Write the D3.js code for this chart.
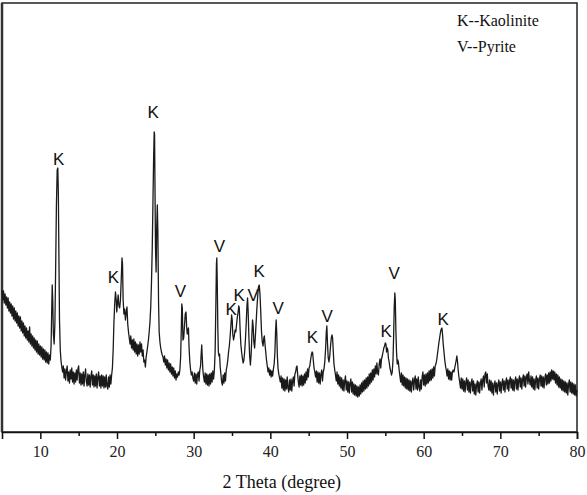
<!DOCTYPE html>
<html>
<head>
<meta charset="utf-8">
<script src="https://cdn.jsdelivr.net/npm/d3@7"></script>
<style>
  body { margin: 0; background: #fff; }
</style>
</head>
<body>
<div id="chart"></div>
<script>
// XRD pattern: [2 theta, intensity a.u.]
var pattern = [
  [5.0,142],[5.1,132],[5.2,141],[5.3,129],[5.4,138],[5.5,127],[5.6,135],[5.7,124],[5.8,134],[5.9,121],
  [6.0,130],[6.1,119],[6.2,128],[6.3,116],[6.4,126],[6.5,113],[6.6,124],[6.7,111],[6.8,121],[6.9,109],
  [7.0,119],[7.1,106],[7.2,116],[7.3,104],[7.4,115],[7.5,101],[7.6,111],[7.7,99],[7.8,109],[7.9,96],
  [8.0,106],[8.1,94],[8.2,104],[8.3,92],[8.4,101],[8.5,90],[8.6,105],[8.7,88],[8.8,98],[8.9,86],
  [9.0,96],[9.1,84],[9.2,94],[9.3,82],[9.4,92],[9.5,80],[9.6,91],[9.7,78],[9.8,88],[9.9,77],
  [10.0,86],[10.1,75],[10.2,85],[10.3,73],[10.4,83],[10.5,72],[10.6,82],[10.7,70],[10.8,80],[10.9,69],
  [11.0,79],[11.1,68],[11.2,77],[11.3,72],[11.4,86],[11.5,128],[11.55,147],[11.62,132],[11.7,98],[11.8,88],
  [11.9,108],[12.0,165],[12.1,228],[12.2,262],[12.28,264],[12.35,238],[12.42,178],[12.5,112],[12.6,82],[12.7,71],
  [12.8,65],[12.9,60],[13.0,66],[13.1,54],[13.2,63],[13.3,52],[13.4,61],[13.5,66],[13.6,51],[13.7,60],
  [13.8,49],[13.9,62],[14.0,53],[14.1,64],[14.2,50],[14.3,60],[14.4,48],[14.5,59],[14.6,50],[14.7,62],
  [14.8,52],[14.9,63],[15.0,66],[15.1,49],[15.2,59],[15.3,47],[15.4,58],[15.5,48],[15.6,60],[15.7,46],
  [15.8,57],[15.9,63],[16.0,50],[16.1,46],[16.2,58],[16.3,47],[16.4,57],[16.5,45],[16.6,56],[16.7,61],
  [16.8,47],[16.9,57],[17.0,45],[17.1,56],[17.2,46],[17.3,58],[17.4,44],[17.5,55],[17.6,60],[17.7,46],
  [17.8,56],[17.9,44],[18.0,57],[18.1,46],[18.2,56],[18.3,44],[18.4,55],[18.5,45],[18.6,57],[18.7,46],
  [18.8,43],[18.9,55],[19.0,45],[19.1,57],[19.2,48],[19.3,57],[19.4,64],[19.5,82],[19.6,110],[19.7,128],
  [19.8,140],[19.9,132],[19.97,120],[20.05,128],[20.15,137],[20.25,126],[20.35,124],[20.45,132],[20.55,152],[20.65,174],
  [20.72,168],[20.8,132],[20.9,118],[21.0,123],[21.1,112],[21.2,120],[21.3,125],[21.4,108],[21.5,100],[21.6,94],
  [21.7,88],[21.8,96],[21.9,84],[22.0,92],[22.1,82],[22.2,93],[22.3,80],[22.4,90],[22.5,78],[22.6,88],
  [22.7,76],[22.8,87],[22.9,78],[23.0,90],[23.1,80],[23.2,88],[23.3,76],[23.4,82],[23.5,70],[23.6,72],
  [23.7,65],[23.8,75],[23.9,80],[24.0,86],[24.1,92],[24.2,100],[24.3,110],[24.4,125],[24.5,150],[24.6,185],
  [24.7,235],[24.78,275],[24.85,300],[24.9,298],[24.95,250],[25.02,185],[25.1,160],[25.18,205],[25.26,227],[25.33,200],
  [25.42,130],[25.5,100],[25.6,90],[25.7,84],[25.8,80],[25.9,77],[26.0,75],[26.1,70],[26.2,76],[26.3,67],
  [26.4,73],[26.5,64],[26.6,72],[26.7,62],[26.8,69],[26.9,60],[27.0,68],[27.1,58],[27.2,65],[27.3,56],
  [27.4,64],[27.5,54],[27.6,61],[27.7,52],[27.8,58],[27.9,55],[28.0,60],[28.1,57],[28.2,62],[28.3,75],
  [28.38,100],[28.45,128],[28.52,124],[28.6,92],[28.7,94],[28.8,106],[28.9,118],[29.0,120],[29.08,106],[29.16,98],
  [29.25,102],[29.32,104],[29.4,84],[29.5,70],[29.6,62],[29.7,57],[29.8,60],[29.9,54],[30.0,51],[30.1,59],
  [30.2,49],[30.3,58],[30.4,48],[30.5,57],[30.6,60],[30.7,51],[30.8,62],[30.9,66],[30.98,78],[31.05,87],
  [31.12,75],[31.2,62],[31.3,55],[31.4,50],[31.5,59],[31.6,48],[31.7,58],[31.8,47],[31.9,57],[32.0,46],
  [32.1,58],[32.2,48],[32.3,59],[32.4,50],[32.5,61],[32.6,53],[32.7,62],[32.8,80],[32.9,130],[32.97,168],
  [33.02,174],[33.08,148],[33.15,105],[33.22,80],[33.3,76],[33.38,78],[33.45,66],[33.55,58],[33.65,50],[33.75,47],
  [33.85,57],[33.95,49],[34.05,59],[34.15,51],[34.25,62],[34.35,66],[34.45,72],[34.55,80],[34.65,86],[34.75,95],
  [34.85,106],[34.95,117],[35.03,112],[35.1,98],[35.2,92],[35.3,96],[35.4,102],[35.5,100],[35.6,108],[35.7,115],
  [35.8,120],[35.88,126],[35.95,124],[36.05,104],[36.15,88],[36.25,80],[36.35,74],[36.45,69],[36.55,72],[36.65,80],
  [36.75,92],[36.85,108],[36.95,126],[37.03,134],[37.1,122],[37.2,96],[37.3,76],[37.4,67],[37.5,78],[37.6,98],
  [37.68,112],[37.76,106],[37.85,90],[37.95,84],[38.05,96],[38.15,110],[38.25,124],[38.35,136],[38.45,145],[38.55,147],
  [38.65,138],[38.75,120],[38.85,100],[38.95,90],[39.05,86],[39.15,94],[39.22,96],[39.3,88],[39.4,80],[39.5,72],
  [39.6,66],[39.7,60],[39.8,64],[39.9,57],[40.0,62],[40.1,55],[40.2,61],[40.3,56],[40.4,63],[40.5,68],
  [40.6,80],[40.68,100],[40.76,112],[40.84,98],[40.92,76],[41.0,64],[41.1,58],[41.2,54],[41.3,50],[41.4,56],
  [41.5,44],[41.6,54],[41.7,42],[41.8,53],[41.9,41],[42.0,52],[42.1,43],[42.2,55],[42.3,44],[42.4,40],
  [42.5,52],[42.6,42],[42.7,53],[42.8,41],[42.9,51],[43.0,55],[43.1,46],[43.2,58],[43.3,60],[43.4,65],
  [43.48,66],[43.56,58],[43.65,50],[43.75,45],[43.85,56],[43.95,47],[44.05,57],[44.15,46],[44.25,56],[44.35,47],
  [44.45,58],[44.55,49],[44.65,60],[44.75,52],[44.85,63],[44.95,55],[45.05,64],[45.15,66],[45.25,72],[45.35,77],
  [45.45,80],[45.52,79],[45.6,72],[45.7,64],[45.8,60],[45.9,55],[46.0,61],[46.1,50],[46.2,60],[46.3,49],
  [46.4,59],[46.5,48],[46.6,58],[46.7,62],[46.8,51],[46.9,60],[47.0,63],[47.1,70],[47.2,82],[47.3,100],
  [47.37,106],[47.45,90],[47.55,74],[47.65,70],[47.75,76],[47.85,86],[47.95,94],[48.05,97],[48.12,94],[48.2,82],
  [48.3,68],[48.4,62],[48.5,57],[48.6,51],[48.7,60],[48.8,48],[48.9,57],[49.0,46],[49.1,55],[49.2,44],
  [49.3,54],[49.4,42],[49.5,52],[49.6,41],[49.7,51],[49.8,56],[49.9,42],[50.0,51],[50.1,40],[50.2,50],
  [50.3,39],[50.4,49],[50.5,53],[50.6,40],[50.7,50],[50.8,38],[50.9,48],[51.0,37],[51.1,47],[51.2,36],
  [51.3,46],[51.4,35],[51.5,45],[51.6,36],[51.7,47],[51.8,38],[51.9,49],[52.0,40],[52.1,51],[52.2,41],
  [52.3,52],[52.4,43],[52.5,54],[52.6,44],[52.7,55],[52.8,46],[52.9,58],[53.0,48],[53.1,59],[53.2,50],
  [53.3,62],[53.4,52],[53.5,63],[53.6,55],[53.7,66],[53.8,58],[53.9,69],[54.0,59],[54.1,57],[54.2,68],
  [54.3,73],[54.4,64],[54.5,73],[54.6,76],[54.7,80],[54.8,84],[54.9,86],[55.0,89],[55.08,88],[55.16,80],
  [55.24,84],[55.32,82],[55.4,74],[55.5,70],[55.6,64],[55.7,61],[55.8,57],[55.9,60],[56.0,72],[56.08,95],
  [56.16,125],[56.24,139],[56.3,132],[56.38,100],[56.46,80],[56.55,68],[56.62,72],[56.7,70],[56.8,62],[56.9,56],
  [57.0,50],[57.1,59],[57.2,47],[57.3,57],[57.4,46],[57.5,55],[57.6,44],[57.7,54],[57.8,43],[57.9,53],
  [58.0,42],[58.1,52],[58.2,41],[58.3,51],[58.4,40],[58.5,50],[58.6,54],[58.7,42],[58.8,52],[58.9,56],
  [59.0,43],[59.1,53],[59.2,42],[59.3,55],[59.4,45],[59.5,41],[59.6,52],[59.7,43],[59.8,55],[59.9,60],
  [60.0,47],[60.1,57],[60.2,46],[60.3,58],[60.4,48],[60.5,59],[60.6,49],[60.7,61],[60.8,51],[60.9,62],
  [61.0,52],[61.1,63],[61.2,54],[61.3,65],[61.4,56],[61.5,66],[61.6,68],[61.7,72],[61.8,78],[61.9,84],
  [62.0,90],[62.1,95],[62.2,100],[62.3,103],[62.38,104],[62.46,98],[62.55,88],[62.65,80],[62.75,72],[62.85,66],
  [62.95,62],[63.05,56],[63.15,63],[63.25,53],[63.35,61],[63.45,52],[63.55,60],[63.65,52],[63.75,60],[63.85,62],
  [63.95,60],[64.05,64],[64.15,68],[64.25,72],[64.33,76],[64.42,70],[64.5,62],[64.6,55],[64.7,50],[64.8,44],
  [64.9,54],[65.0,43],[65.1,53],[65.2,41],[65.3,51],[65.4,40],[65.5,50],[65.6,54],[65.7,42],[65.8,52],
  [65.9,40],[66.0,50],[66.1,39],[66.2,49],[66.3,53],[66.4,41],[66.5,51],[66.6,38],[66.7,48],[66.8,37],
  [66.9,47],[67.0,51],[67.1,40],[67.2,50],[67.3,39],[67.4,49],[67.5,53],[67.6,42],[67.7,52],[67.8,56],
  [67.9,45],[68.0,58],[68.1,60],[68.2,49],[68.3,58],[68.4,46],[68.5,42],[68.6,52],[68.7,41],[68.8,51],
  [68.9,39],[69.0,49],[69.1,37],[69.2,47],[69.3,51],[69.4,40],[69.5,49],[69.6,38],[69.7,48],[69.8,52],
  [69.9,41],[70.0,50],[70.1,39],[70.2,49],[70.3,53],[70.4,42],[70.5,51],[70.6,40],[70.7,50],[70.8,54],
  [70.9,43],[71.0,52],[71.1,41],[71.2,51],[71.3,55],[71.4,44],[71.5,53],[71.6,42],[71.7,52],[71.8,41],
  [71.9,51],[72.0,55],[72.1,43],[72.2,53],[72.3,42],[72.4,52],[72.5,56],[72.6,45],[72.7,54],[72.8,43],
  [72.9,53],[73.0,57],[73.1,46],[73.2,56],[73.3,45],[73.4,55],[73.5,58],[73.6,48],[73.7,60],[73.8,51],
  [73.9,47],[74.0,56],[74.1,45],[74.2,55],[74.3,43],[74.4,53],[74.5,42],[74.6,52],[74.7,56],[74.8,44],
  [74.9,54],[75.0,43],[75.1,53],[75.2,57],[75.3,46],[75.4,56],[75.5,45],[75.6,55],[75.7,44],[75.8,54],
  [75.9,58],[76.0,47],[76.1,57],[76.2,48],[76.3,59],[76.4,49],[76.5,60],[76.6,51],[76.7,62],[76.8,53],
  [76.9,61],[77.0,52],[77.1,60],[77.2,49],[77.3,58],[77.4,47],[77.5,57],[77.6,45],[77.7,55],[77.8,44],
  [77.9,53],[78.0,42],[78.1,52],[78.2,41],[78.3,51],[78.4,40],[78.5,50],[78.6,39],[78.7,49],[78.8,37],
  [78.9,48],[79.0,52],[79.1,40],[79.2,50],[79.3,39],[79.4,49],[79.5,38],[79.6,48],[79.7,37],[79.8,47],
  [79.9,36],[80.0,42]
];

// phase labels: [2 theta, intensity level of text baseline, phase]
var peakLabels = [
  [12.38,267,"K"],[24.73,314,"K"],[19.52,149,"K"],[28.27,135,"V"],
  [33.35,180,"V"],[34.89,117,"K"],[35.94,131,"K"],[37.76,131,"V"],
  [38.55,155,"K"],[41.02,118,"V"],[45.5,89,"K"],[47.42,110,"V"],
  [55.11,95,"K"],[56.15,153,"V"],[62.54,107,"K"]
];

var legendLines = ["K--Kaolinite", "V--Pyrite"];
var majorTicks = [10, 20, 30, 40, 50, 60, 70, 80];
var minorTicks = [15, 25, 35, 45, 55, 65, 75];

var serif = "'Liberation Serif', 'Times New Roman', serif",
    sans = "'Liberation Sans', Arial, sans-serif";

// setup dimensions
var W = 587, H = 495,
  margin = {top: 3, right: 10, bottom: 63, left: 2},
  width = W - margin.left - margin.right,
  height = H - margin.top - margin.bottom;

var svg = d3.select("#chart").append("svg")
  .attr("width", W)
  .attr("height", H)
.append("g")
  .attr("transform", "translate(" + margin.left + "," + margin.top + ")");

// setup scales
var x = d3.scaleLinear()
  .domain([5, 80])
  .range([0, width]);
var y = d3.scaleLinear()
  .domain([0, 429])
  .range([height, 0]);

// frame
svg.append("rect")
  .attr("x", 0)
  .attr("y", 0)
  .attr("width", width)
  .attr("height", height)
  .attr("fill", "none")
  .attr("stroke", "#222")
  .attr("stroke-width", 1.5);
svg.append("line")
  .attr("x1", 0).attr("x2", 0)
  .attr("y1", 0).attr("y2", height)
  .attr("stroke", "#333")
  .attr("stroke-width", 2.5);

// pattern line
var valueline = d3.line()
  .x(function(d) { return x(d[0]); })
  .y(function(d) { return y(d[1]); });

svg.append("path")
  .datum(pattern)
  .attr("d", valueline)
  .attr("fill", "none")
  .attr("stroke", "#1a1a1a")
  .attr("stroke-width", 1.3)
  .attr("stroke-linejoin", "round");

// axes
var xAxis = svg.append("g")
  .attr("class", "axis axis--x")
  .attr("transform", "translate(0," + height + ")")
  .call(d3.axisBottom(x).tickValues(majorTicks).tickSize(7).tickPadding(7).tickFormat(d3.format("d")));
xAxis.attr("font-family", serif).attr("font-size", 16);
xAxis.select(".domain").attr("stroke", "#111").attr("stroke-width", 1.6);
xAxis.selectAll(".tick line").attr("stroke", "#111").attr("stroke-width", 1.5);
xAxis.selectAll(".tick text").attr("fill", "#222");

var xMinor = svg.append("g")
  .attr("class", "axis axis--minor")
  .attr("transform", "translate(0," + height + ")")
  .call(d3.axisBottom(x).tickValues(minorTicks).tickSize(4).tickFormat(""));
xMinor.select(".domain").remove();
xMinor.selectAll(".tick line").attr("stroke", "#111").attr("stroke-width", 1.5);

// axis title
svg.append("text")
  .attr("x", x(41.5))
  .attr("y", height + 56)
  .attr("text-anchor", "middle")
  .attr("font-family", serif)
  .attr("font-size", 18)
  .attr("fill", "#111")
  .text("2 Theta (degree)");

// peak labels
svg.selectAll("text.peak")
  .data(peakLabels)
.enter().append("text")
  .attr("class", "peak")
  .attr("x", function(d) { return x(d[0]); })
  .attr("y", function(d) { return y(d[1]); })
  .attr("text-anchor", "middle")
  .attr("font-family", sans)
  .attr("font-size", 17)
  .attr("fill", "#111")
  .text(function(d) { return d[2]; });

// legend
svg.selectAll("text.legend")
  .data(legendLines)
.enter().append("text")
  .attr("class", "legend")
  .attr("x", 455)
  .attr("y", function(d, i) { return 23 + i * 26; })
  .attr("font-family", serif)
  .attr("font-size", 16)
  .attr("fill", "#111")
  .text(function(d) { return d; });
</script>
</body>
</html>
